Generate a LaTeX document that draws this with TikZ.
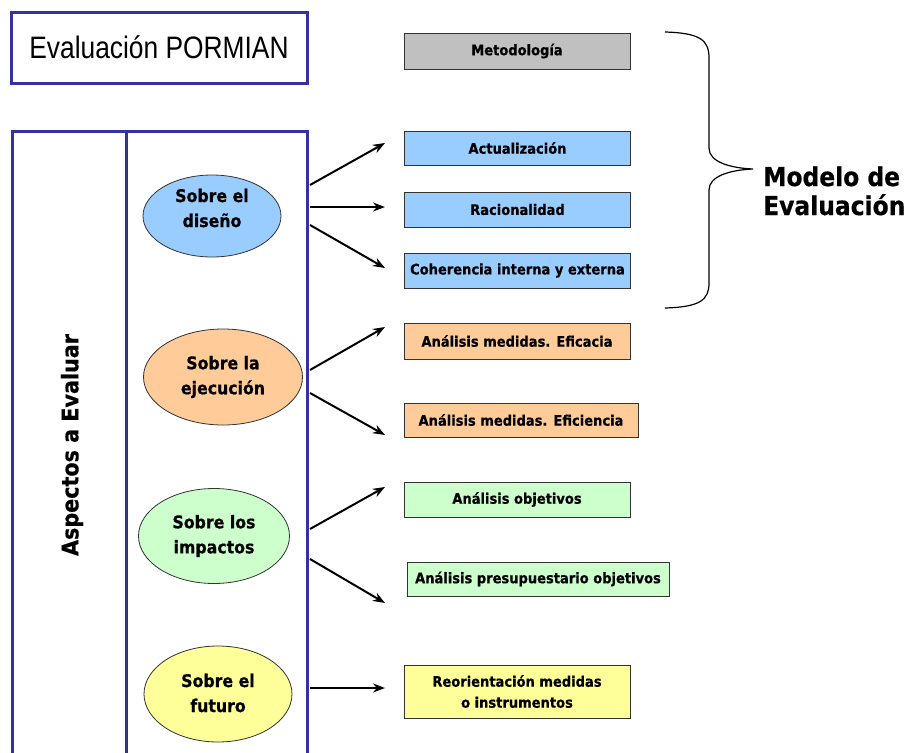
\documentclass[tikz,border=0pt]{standalone}
\usepackage{fontspec}
\setmainfont{DejaVu Sans}[FakeStretch=0.9, BoldFeatures={FakeBold=0.6}]
\newfontfamily\titlefont{Liberation Sans}[FakeStretch=0.85]
\usetikzlibrary{shapes.geometric,arrows.meta}
\definecolor{bordblue}{HTML}{333399}
\definecolor{lblue}{HTML}{99CCFF}
\definecolor{peach}{HTML}{FFCC99}
\definecolor{lgreen}{HTML}{CCFFCC}
\definecolor{lyellow}{HTML}{FFFF99}
\definecolor{lgray}{HTML}{C0C0C0}
\tikzset{
  frame/.style={draw=bordblue, line width=3pt},
  rbox/.style={draw=black!80, line width=1pt, minimum height=35pt, minimum width=226pt, inner sep=0pt, align=center, font=\bfseries\fontsize{14.5}{21}\selectfont},
  ell/.style={ellipse, draw=black!80, line width=0.8pt, inner sep=0pt},
  etext/.style={align=center, inner sep=0pt, font=\bfseries\fontsize{17.5}{25}\selectfont},
  arr/.style={-{Stealth[length=12pt,width=9pt]}, line width=2pt},
  bigtext/.style={inner sep=0pt, font=\bfseries\fontsize{26}{29}\selectfont}
}
\begin{document}
\begin{tikzpicture}[x=1pt,y=-1pt]
\fill[white] (0,0) rectangle (906,753);
\clip (0,0) rectangle (906,753);

% title
\node[frame, minimum width=296pt, minimum height=71pt, inner sep=0pt] (title) at (159,47.5)
  {\titlefont\fontsize{31}{36}\selectfont Evaluación PORMIAN};

% big frame
\draw[frame] (12,131) rectangle (307,775);
\draw[frame] (126,131) -- (126,775);
\node[rotate=90, inner sep=0pt, font=\bfseries\fontsize{23}{26}\selectfont] (asp) at (72,445) {Aspectos a Evaluar};

% ellipses
\node[ell, fill=lblue, minimum width=138pt, minimum height=82pt] (e1) at (212,216) {};
\node[etext] (t1) at (212,208) {Sobre el\\diseño};
\node[ell, fill=peach, minimum width=159pt, minimum height=96pt] (e2) at (223,377) {};
\node[etext] (t2) at (223,377) {Sobre la\\ejecución};
\node[ell, fill=lgreen, minimum width=151pt, minimum height=95pt] (e3) at (214,536) {};
\node[etext] (t3) at (214,536) {Sobre los\\impactos};
\node[ell, fill=lyellow, minimum width=148pt, minimum height=96pt] (e4) at (218,694) {};
\node[etext] (t4) at (218,693) {Sobre el\\futuro};

% boxes
\node[rbox, fill=lgray, minimum height=36pt] (met) at (517,51) {Metodología};
\node[rbox, fill=lblue, minimum height=34pt] (act) at (517.5,148) {Actualización};
\node[rbox, fill=lblue] (rac) at (517.5,209.5) {Racionalidad};
\node[rbox, fill=lblue] (coh) at (517.5,270.5) {Coherencia interna y externa};
\node[rbox, fill=peach, minimum height=36pt] (efa) at (517,341) {Análisis medidas. Eficacia};
\node[rbox, fill=peach, minimum height=34pt, minimum width=234pt] (efi) at (521,420) {Análisis medidas. Eficiencia};
\node[rbox, fill=lgreen] (aob) at (517,499.5) {Análisis objetivos};
\node[rbox, fill=lgreen, minimum height=34pt, minimum width=262pt] (apr) at (538,579) {Análisis presupuestario objetivos};
\node[rbox, fill=lyellow, minimum height=53pt] (reo) at (517,691.5) {Reorientación medidas\\o instrumentos};

% arrows
\coordinate (a1s) at (310,185); \coordinate (a1e) at (385,143);
\coordinate (a2s) at (310,207); \coordinate (a2e) at (385,207);
\coordinate (a3s) at (310,225); \coordinate (a3e) at (385,268);
\coordinate (b1s) at (310,370); \coordinate (b1e) at (385,327);
\coordinate (b2s) at (310,393); \coordinate (b2e) at (385,435);
\coordinate (c1s) at (310,529); \coordinate (c1e) at (385,487);
\coordinate (c2s) at (310,559); \coordinate (c2e) at (385,603);
\coordinate (d1s) at (310,688); \coordinate (d1e) at (385,688);
\foreach \s/\e in {a1s/a1e,a2s/a2e,a3s/a3e,b1s/b1e,b2s/b2e,c1s/c1e,c2s/c2e,d1s/d1e}
  \draw[arr] (\s) -- (\e);

% brace
\draw[line width=1.2pt] (665,32) .. controls (700,33) and (709,40) .. (709,58) -- (709,148)
  .. controls (709,162) and (730,168) .. (753,169)
  .. controls (730,170) and (709,176) .. (709,190) -- (709,283)
  .. controls (709,300) and (700,307) .. (665,308);

\node[bigtext, anchor=base west] (mod1) at (763,186) {Modelo de};
\node[bigtext, anchor=base west] (mod2) at (763,215) {Evaluación};
\end{tikzpicture}
\end{document}
